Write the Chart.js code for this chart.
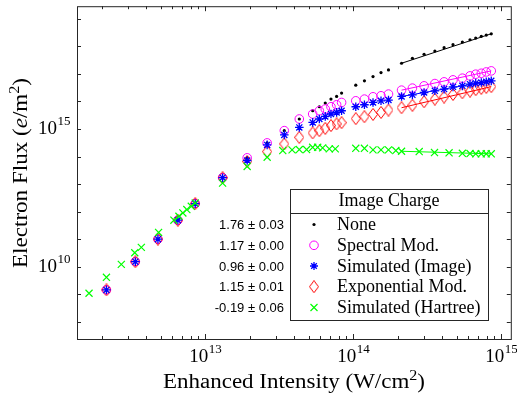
<!DOCTYPE html>
<html>
<head>
<meta charset="utf-8">
<script src="https://cdn.jsdelivr.net/npm/chart.js@4.4.0/dist/chart.umd.min.js"></script>
<style>
  body { margin: 0; background: #fff; }
  canvas { display: block; }
</style>
</head>
<body>
<canvas id="flux-chart" width="517" height="399"></canvas>
<script>
// Enhanced intensity (W/cm^2) shared by the four image-charge series
const intensity = [2.15e12, 3.37e12, 4.79e12, 6.53e12, 8.56e12, 1.31e13, 1.92e13, 2.62e13, 3.42e13, 4.32e13,
    5.32e13, 5.90e13, 6.47e13, 7.07e13, 7.72e13, 8.34e13, 1.04e14, 1.19e14, 1.36e14, 1.54e14, 1.73e14,
    2.12e14, 2.51e14, 3.01e14, 3.56e14, 4.11e14, 4.72e14, 5.46e14, 6.15e14, 6.72e14, 7.33e14, 7.92e14, 8.56e14];

// Electron flux (e/m^2)
const fluxNone = [1.44e9, 1.52e10, 1.0e11, 4.87e11, 1.95e12, 1.70e13, 8.96e13, 3.12e14, 8.69e14, 2.30e15,
    4.58e15, 6.39e15, 8.69e15, 1.21e16, 1.51e16, 2.0e16, 3.89e16, 5.56e16, 7.95e16, 1.11e17, 1.39e17,
    2.42e17, 3.67e17, 5.12e17, 6.74e17, 8.87e17, 1.14e18, 1.43e18, 1.73e18, 1.99e18, 2.29e18, 2.55e18, 2.84e18];
const fluxSpectral = [1.44e9, 1.52e10, 1.0e11, 4.87e11, 1.95e12, 1.70e13, 8.96e13, 3.12e14, 8.69e14, 2.30e15,
    3.48e15, 4.58e15, 5.28e15, 6.39e15, 7.55e15, 9.14e15, 1.05e16, 1.21e16, 1.47e16, 1.60e16, 1.84e16,
    2.56e16, 3.03e16, 3.67e16, 4.44e16, 5.11e16, 6.04e16, 6.96e16, 8.43e16, 9.71e16, 1.05e17, 1.17e17, 1.28e17];
const fluxImage = [1.44e9, 1.52e10, 1.0e11, 4.87e11, 1.95e12, 1.70e13, 7.16e13, 2.64e14, 6.07e14, 1.14e15,
    1.73e15, 2.30e15, 2.85e15, 3.48e15, 3.98e15, 4.58e15, 6.39e15, 7.55e15, 9.14e15, 1.05e16, 1.12e16,
    1.51e16, 1.73e16, 2.10e16, 2.42e16, 2.79e16, 3.37e16, 3.67e16, 4.22e16, 4.59e16, 4.83e16, 5.11e16, 5.56e16];
const fluxExp = [1.44e9, 1.52e10, 1.0e11, 4.87e11, 1.95e12, 1.70e13, 6.59e13, 1.51e14, 2.87e14, 4.97e14,
    7.17e14, 8.68e14, 1.05e15, 1.32e15, 1.52e15, 1.69e15, 2.36e15, 2.78e15, 3.37e15, 3.98e15, 4.86e15,
    5.89e15, 7.24e15, 9.69e15, 1.21e16, 1.44e16, 1.78e16, 2.05e16, 2.36e16, 2.67e16, 2.98e16, 3.24e16, 3.43e16];

// Hartree simulation has its own intensity grid
const intensityHartree = [1.64e12, 2.15e12, 2.71e12, 3.34e12, 3.70e12, 4.84e12, 6.14e12, 6.64e12, 7.06e12, 7.51e12,
    8.05e12, 8.56e12, 1.31e13, 1.92e13, 2.62e13, 3.34e13, 3.86e13, 4.32e13, 4.84e13, 5.32e13, 5.75e13, 6.21e13,
    6.89e13, 7.56e13, 1.04e14, 1.19e14, 1.36e14, 1.54e14, 1.73e14, 1.94e14, 2.12e14, 2.79e14, 3.54e14, 4.44e14,
    5.46e14, 6.15e14, 6.72e14, 7.33e14, 7.92e14, 8.56e14];
const fluxHartree = [1.09e9, 4.14e9, 1.22e10, 3.21e10, 5.02e10, 1.75e11, 4.87e11, 6.79e11, 8.93e11, 1.19e12,
    1.56e12, 2.05e12, 1.08e13, 4.35e13, 9.42e13, 1.64e14, 1.74e14, 1.79e14, 1.79e14, 2.16e14, 2.16e14, 2.06e14,
    1.89e14, 1.89e14, 1.99e14, 1.99e14, 1.74e14, 1.74e14, 1.74e14, 1.64e14, 1.55e14, 1.51e14, 1.39e14, 1.36e14,
    1.31e14, 1.28e14, 1.25e14, 1.25e14, 1.25e14, 1.25e14];

// power-law fits over the high intensity range (endpoints)
const fitRange = [2.12e14, 8.56e14];
const fitNone = [2.42e17, 2.84e18];
const fitSpectral = [2.56e16, 1.28e17];
const fitImage = [1.51e16, 5.56e16];
const fitExp = [5.89e15, 3.43e16];
const fitHartree = [1.55e14, 1.25e14];

const legendLabels = ['None', 'Spectral Mod.', 'Simulated (Image)', 'Exponential Mod.', 'Simulated (Hartree)'];
const slopeLabels = ['1.76 \u00b1 0.03', '1.17 \u00b1 0.00', '0.96 \u00b1 0.00', '1.15 \u00b1 0.01', '-0.19 \u00b1 0.06'];

const xMajor = [1e13, 1e14, 1e15];
const yTicks = [1e8, 1e9, 1e10, 1e11, 1e12, 1e13, 1e14, 1e15, 1e16, 1e17, 1e18, 1e19];
const yLabeled = [1e10, 1e15];

const serif = '"Liberation Serif", "Times New Roman", serif';
const sans = '"Liberation Sans", Arial, sans-serif';

const colors = { none: '#000000', spectral: '#ff00ff', image: '#0000ff', exp: '#ff0000', hartree: '#00ff00' };

function pts(xs, ys) {
    return xs.map((x, i) => ({ x, y: ys[i] }));
}

// MATLAB-like diamond, a bit taller than wide
function diamondMarker(color) {
    const c = document.createElement('canvas');
    c.width = 10;
    c.height = 13;
    const g = c.getContext('2d');
    g.strokeStyle = color;
    g.lineWidth = 1;
    g.beginPath();
    g.moveTo(5, 0.5);
    g.lineTo(9.5, 6.5);
    g.lineTo(5, 12.5);
    g.lineTo(0.5, 6.5);
    g.closePath();
    g.stroke();
    return c;
}
const diamond = diamondMarker(colors.exp);

// order: higher numbers are drawn first (underneath)
function markerSet(data, color, style, radius, width, order) {
    return {
        data,
        order,
        showLine: false,
        pointStyle: style,
        pointRadius: radius,
        pointBorderColor: color,
        pointBackgroundColor: style === 'circle' && radius < 2 ? color : 'rgba(0,0,0,0)',
        pointBorderWidth: width
    };
}

function fitLine(ys, color) {
    return {
        data: pts(fitRange, ys),
        order: 0,
        showLine: true,
        borderColor: color,
        borderWidth: 1,
        pointRadius: 0
    };
}

const datasets = [
    markerSet(pts(intensity, fluxNone), colors.none, 'circle', 1.6, 0, 6),
    markerSet(pts(intensity, fluxSpectral), colors.spectral, 'circle', 4.3, 1, 5),
    markerSet(pts(intensity, fluxExp), colors.exp, diamond, 5, 1, 4),
    markerSet(pts(intensity, fluxImage), colors.image, 'star', 4.3, 1.3, 3),
    markerSet(pts(intensityHartree, fluxHartree), colors.hartree, 'crossRot', 5, 1.2, 2),
    fitLine(fitNone, colors.none),
    fitLine(fitSpectral, colors.spectral),
    fitLine(fitImage, colors.image),
    fitLine(fitExp, colors.exp),
    fitLine(fitHartree, colors.hartree)
];

// text made of runs, some italic or superscript; cx centre, y baseline
function drawRuns(ctx, runs, cx, y, size, targetWidth) {
    const font = r => `${r.it ? 'italic ' : ''}${r.sup ? Math.round(size * 0.7) : size}px ${serif}`;
    let total = 0;
    runs.forEach(r => {
        ctx.font = font(r);
        r.w = ctx.measureText(r.t).width;
        total += r.w;
    });
    const sx = targetWidth ? targetWidth / total : 1;
    ctx.save();
    ctx.translate(cx, y);
    ctx.scale(sx, 1);
    ctx.textAlign = 'left';
    ctx.textBaseline = 'alphabetic';
    let x = -total / 2;
    runs.forEach(r => {
        ctx.font = font(r);
        ctx.fillText(r.t, x, r.sup ? -size * 0.4 : 0);
        x += r.w;
    });
    ctx.restore();
}

function drawPow(ctx, exp, x, y, align) {
    ctx.font = `19px ${serif}`;
    const wb = ctx.measureText('10').width;
    ctx.font = `13px ${serif}`;
    const we = ctx.measureText(exp).width;
    const x0 = align === 'right' ? x - wb - we : x - (wb + we) / 2;
    ctx.textAlign = 'left';
    ctx.textBaseline = 'middle';
    ctx.font = `19px ${serif}`;
    ctx.fillText('10', x0, y);
    ctx.font = `13px ${serif}`;
    ctx.fillText(exp, x0 + wb + 0.5, y - 7);
}

function drawMarker(ctx, i, x, y) {
    ctx.save();
    ctx.lineWidth = 1;
    if (i === 0) {
        ctx.fillStyle = colors.none;
        ctx.beginPath();
        ctx.arc(x, y, 1.6, 0, Math.PI * 2);
        ctx.fill();
    } else if (i === 1) {
        ctx.strokeStyle = colors.spectral;
        ctx.beginPath();
        ctx.arc(x, y, 4.3, 0, Math.PI * 2);
        ctx.stroke();
    } else if (i === 2) {
        ctx.strokeStyle = colors.image;
        ctx.lineWidth = 1.3;
        ctx.beginPath();
        for (let k = 0; k < 4; k++) {
            const a = k * Math.PI / 4;
            ctx.moveTo(x - Math.cos(a) * 4, y - Math.sin(a) * 4);
            ctx.lineTo(x + Math.cos(a) * 4, y + Math.sin(a) * 4);
        }
        ctx.stroke();
    } else if (i === 3) {
        ctx.drawImage(diamond, x - diamond.width / 2, y - diamond.height / 2);
    } else {
        ctx.strokeStyle = colors.hartree;
        ctx.lineWidth = 1.2;
        ctx.beginPath();
        ctx.moveTo(x - 3.5, y - 3.5);
        ctx.lineTo(x + 3.5, y + 3.5);
        ctx.moveTo(x + 3.5, y - 3.5);
        ctx.lineTo(x - 3.5, y + 3.5);
        ctx.stroke();
    }
    ctx.restore();
}

const framePlugin = {
    id: 'frame',
    afterDraw(chart) {
        const { ctx, chartArea: a, scales: { x, y } } = chart;
        ctx.save();
        ctx.strokeStyle = '#262626';
        ctx.lineWidth = 1;
        ctx.strokeRect(a.left + 0.5, a.top + 0.5, a.right - a.left, a.bottom - a.top);

        // inward ticks on all four sides
        ctx.beginPath();
        const xTick = (v, len) => {
            const px = Math.round(x.getPixelForValue(v)) + 0.5;
            ctx.moveTo(px, a.bottom);
            ctx.lineTo(px, a.bottom - len);
            ctx.moveTo(px, a.top);
            ctx.lineTo(px, a.top + len);
        };
        for (let d = 1e12; d < 1e15; d *= 10) {
            for (let m = 2; m <= 9; m++) {
                const v = m * d;
                if (v > x.min && v < x.max) xTick(v, 3);
            }
        }
        xMajor.forEach(v => xTick(v, 5));
        yTicks.forEach(v => {
            const py = Math.round(y.getPixelForValue(v)) + 0.5;
            ctx.moveTo(a.left, py);
            ctx.lineTo(a.left + 4, py);
            ctx.moveTo(a.right, py);
            ctx.lineTo(a.right - 4, py);
        });
        ctx.stroke();

        // tick labels
        ctx.fillStyle = '#000';
        xMajor.forEach(v => drawPow(ctx, String(Math.round(Math.log10(v))), x.getPixelForValue(v), a.bottom + 18, 'center'));
        yLabeled.forEach(v => drawPow(ctx, String(Math.round(Math.log10(v))), a.left - 7, y.getPixelForValue(v), 'right'));

        // axis titles
        drawRuns(ctx, [{ t: 'Enhanced Intensity (W/cm' }, { t: '2', sup: true }, { t: ')' }], 294, 388, 20, 262);
        ctx.save();
        ctx.translate(27, 173);
        ctx.rotate(-Math.PI / 2);
        drawRuns(ctx, [{ t: 'Electron Flux (' }, { t: 'e', it: true }, { t: '/m' }, { t: '2', sup: true }, { t: ')' }], 0, 0, 20, 190);
        ctx.restore();

        // legend box
        const box = { l: 290, t: 189, r: 488, b: 320 };
        ctx.fillStyle = '#fff';
        ctx.fillRect(box.l, box.t, box.r - box.l, box.b - box.t);
        ctx.strokeStyle = '#262626';
        ctx.strokeRect(box.l + 0.5, box.t + 0.5, box.r - box.l, box.b - box.t);
        ctx.beginPath();
        ctx.moveTo(box.l, 213.5);
        ctx.lineTo(box.r, 213.5);
        ctx.stroke();
        ctx.fillStyle = '#000';
        ctx.font = `18px ${serif}`;
        ctx.textAlign = 'center';
        ctx.textBaseline = 'middle';
        ctx.fillText('Image Charge', 389, 201);

        const rowY = [224.5, 245.3, 266, 286.7, 307.5];
        legendLabels.forEach((label, i) => {
            drawMarker(ctx, i, 314, rowY[i]);
            ctx.fillStyle = '#000';
            ctx.font = `18px ${serif}`;
            ctx.textAlign = 'left';
            ctx.textBaseline = 'middle';
            ctx.fillText(label, 337, rowY[i] + 1);
            ctx.font = `13px ${sans}`;
            ctx.textAlign = 'right';
            ctx.fillText(slopeLabels[i], 284, rowY[i] + 1);
        });
        ctx.restore();
    }
};

new Chart(document.getElementById('flux-chart'), {
    type: 'scatter',
    data: { datasets },
    options: {
        responsive: false,
        animation: false,
        devicePixelRatio: 1,
        layout: { padding: { left: 77, right: 5, top: 5, bottom: 60 } },
        plugins: { legend: { display: false }, tooltip: { enabled: false } },
        scales: {
            x: { type: 'logarithmic', min: 1.36e12, max: 1.16e15, display: false },
            y: { type: 'logarithmic', min: 2.38e7, max: 2.85e19, display: false }
        }
    },
    plugins: [framePlugin]
});
</script>
</body>
</html>
